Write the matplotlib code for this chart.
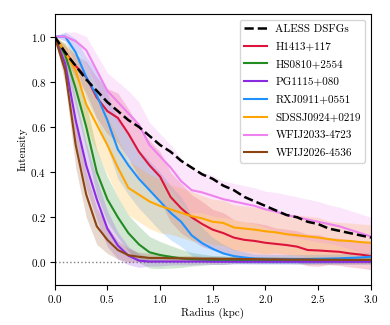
import numpy as np
import matplotlib.pyplot as plt
plt.switch_backend('agg')

plt.rcParams['font.family'] = ['cmr10', 'DejaVu Serif']
plt.rcParams['mathtext.fontset'] = 'cm'
plt.rcParams['axes.formatter.use_mathtext'] = True

radius = np.linspace(0, 3, 31)

ales = [1.00, 0.93, 0.87, 0.81, 0.76, 0.71, 0.67, 0.63, 0.60, 0.56, 0.52,
        0.49, 0.45, 0.42, 0.39, 0.37, 0.34, 0.32, 0.29, 0.27, 0.25,
        0.23, 0.21, 0.20, 0.18, 0.17, 0.15, 0.14, 0.13, 0.12, 0.11]

names = ['H1413+117', 'HS0810+2554', 'PG1115+080', 'RXJ0911+0551',
         'SDSSJ0924+0219', 'WFIJ2033-4723', 'WFIJ2026-4536']
colors = ['crimson', 'forestgreen', 'blueviolet', 'dodgerblue',
          'orange', 'violet', 'saddlebrown']

h1413 = [1.00, 0.93, 0.87, 0.82, 0.73, 0.67, 0.64, 0.57, 0.49, 0.43, 0.38,
         0.29, 0.24, 0.20, 0.17, 0.145, 0.13, 0.11, 0.10, 0.095, 0.087,
         0.082, 0.077, 0.07, 0.055, 0.053, 0.05, 0.047, 0.04, 0.035, 0.028]
hs0810 = [1.00, 0.92, 0.77, 0.60, 0.40, 0.28, 0.20, 0.13, 0.08, 0.045, 0.033,
          0.025, 0.018, 0.014, 0.012, 0.011, 0.010, 0.010, 0.010, 0.009, 0.009,
          0.009, 0.009, 0.008, 0.008, 0.008, 0.008, 0.008, 0.008, 0.008, 0.008]
pg1115 = [1.00, 0.88, 0.63, 0.43, 0.28, 0.15, 0.075, 0.03, 0.008, 0.004, 0.004,
          0.004, 0.004, 0.004, 0.004, 0.003, 0.003, 0.003, 0.003, 0.003, 0.003,
          0.003, 0.003, 0.003, 0.003, 0.003, 0.003, 0.003, 0.003, 0.003, 0.003]
rxj0911 = [1.00, 1.00, 0.93, 0.82, 0.74, 0.63, 0.50, 0.43, 0.37, 0.32, 0.27,
           0.22, 0.18, 0.12, 0.085, 0.06, 0.04, 0.028, 0.022, 0.017, 0.016,
           0.015, 0.015, 0.015, 0.015, 0.016, 0.017, 0.018, 0.020, 0.022, 0.025]
sdss0924 = [1.00, 0.93, 0.85, 0.70, 0.61, 0.52, 0.42, 0.33, 0.30, 0.27, 0.25,
            0.235, 0.22, 0.205, 0.195, 0.18, 0.175, 0.155, 0.15, 0.145, 0.138,
            0.133, 0.125, 0.12, 0.115, 0.11, 0.103, 0.097, 0.095, 0.09, 0.087]
wfi2033 = [1.00, 1.00, 0.98, 0.94, 0.85, 0.76, 0.71, 0.66, 0.61, 0.52, 0.47,
           0.42, 0.36, 0.32, 0.31, 0.295, 0.28, 0.27, 0.26, 0.25, 0.235,
           0.225, 0.21, 0.20, 0.19, 0.18, 0.17, 0.16, 0.145, 0.13, 0.115]
wfi2026 = [1.00, 0.85, 0.52, 0.30, 0.16, 0.10, 0.055, 0.032, 0.025, 0.02, 0.02,
           0.019, 0.018, 0.018, 0.017, 0.017, 0.016, 0.016, 0.015, 0.015, 0.014,
           0.014, 0.013, 0.013, 0.013, 0.012, 0.012, 0.012, 0.011, 0.011, 0.011]

h1413_err = [0, 0.03, 0.05, 0.07, 0.09, 0.10, 0.11, 0.11, 0.11, 0.11, 0.11,
             0.11, 0.11, 0.10, 0.10, 0.09, 0.09, 0.08, 0.08, 0.08, 0.08,
             0.07, 0.07, 0.07, 0.07, 0.07, 0.06, 0.06, 0.06, 0.06, 0.06]
hs0810_err = [0, 0.05, 0.08, 0.10, 0.10, 0.10, 0.09, 0.08, 0.08, 0.07, 0.06,
              0.05, 0.04, 0.03, 0.025, 0.02, 0.02, 0.015, 0.015, 0.015, 0.015,
              0.015, 0.015, 0.015, 0.015, 0.015, 0.015, 0.015, 0.015, 0.015, 0.015]
pg1115_err = [0, 0.06, 0.10, 0.10, 0.09, 0.08, 0.06, 0.04, 0.03, 0.02, 0.02,
              0.015, 0.015, 0.015, 0.012, 0.012, 0.012, 0.01, 0.01, 0.01, 0.01,
              0.01, 0.01, 0.01, 0.01, 0.01, 0.01, 0.01, 0.01, 0.01, 0.01]
rxj0911_err = [0, 0.02, 0.06, 0.09, 0.11, 0.12, 0.13, 0.13, 0.13, 0.13, 0.13,
               0.12, 0.11, 0.09, 0.07, 0.05, 0.04, 0.03, 0.025, 0.02, 0.02,
               0.02, 0.02, 0.02, 0.02, 0.02, 0.02, 0.02, 0.02, 0.02, 0.02]
sdss0924_err = [0, 0.04, 0.08, 0.10, 0.12, 0.13, 0.13, 0.12, 0.12, 0.12, 0.12,
                0.11, 0.11, 0.11, 0.10, 0.10, 0.10, 0.10, 0.10, 0.10, 0.10,
                0.09, 0.09, 0.09, 0.09, 0.09, 0.08, 0.08, 0.08, 0.08, 0.08]
wfi2033_err = [0, 0.02, 0.04, 0.06, 0.07, 0.08, 0.09, 0.10, 0.10, 0.10, 0.10,
               0.10, 0.10, 0.10, 0.09, 0.09, 0.08, 0.08, 0.08, 0.08, 0.08,
               0.085, 0.09, 0.09, 0.09, 0.09, 0.085, 0.085, 0.085, 0.085, 0.085]
wfi2026_err = [0, 0.06, 0.10, 0.10, 0.08, 0.06, 0.04, 0.03, 0.02, 0.02, 0.015,
               0.012, 0.012, 0.012, 0.01, 0.01, 0.01, 0.01, 0.01, 0.01, 0.01,
               0.01, 0.01, 0.01, 0.01, 0.01, 0.01, 0.01, 0.01, 0.01, 0.01]

profiles = [h1413, hs0810, pg1115, rxj0911, sdss0924, wfi2033, wfi2026]
errors = [h1413_err, hs0810_err, pg1115_err, rxj0911_err,
          sdss0924_err, wfi2033_err, wfi2026_err]

fig = plt.figure(figsize=(3.9, 3.25), dpi=100)
ax = fig.add_axes([0.14, 0.123, 0.811, 0.834])

fs = 8
ax.axhline(0, color='gray', ls=':', lw=1, zorder=0)
ax.plot(radius, ales, 'k--', lw=1.8, label='ALESS DSFGs', zorder=5)

for prof, err, name, c in zip(profiles, errors, names, colors):
    prof = np.array(prof)
    err = np.array(err)
    ax.fill_between(radius, prof - err, prof + err, color=c, alpha=0.2, lw=0)
    ax.plot(radius, prof, color=c, lw=1.5, label=name)

ax.set_xlim(0, 3)
ax.set_ylim(-0.1, 1.1)
ax.set_xticks([0, 0.5, 1.0, 1.5, 2.0, 2.5, 3.0])
ax.set_yticks([0, 0.2, 0.4, 0.6, 0.8, 1.0])
ax.set_xlabel('Radius (kpc)', fontsize=fs, labelpad=2)
ax.set_ylabel('Intensity', fontsize=fs, labelpad=2)
ax.tick_params(axis='both', labelsize=fs, pad=2.5)

ax.legend(loc='upper right', fontsize=fs, handlelength=2.0, labelspacing=0.72)

fig.savefig('out.png', dpi=100)
plt.close('all')
